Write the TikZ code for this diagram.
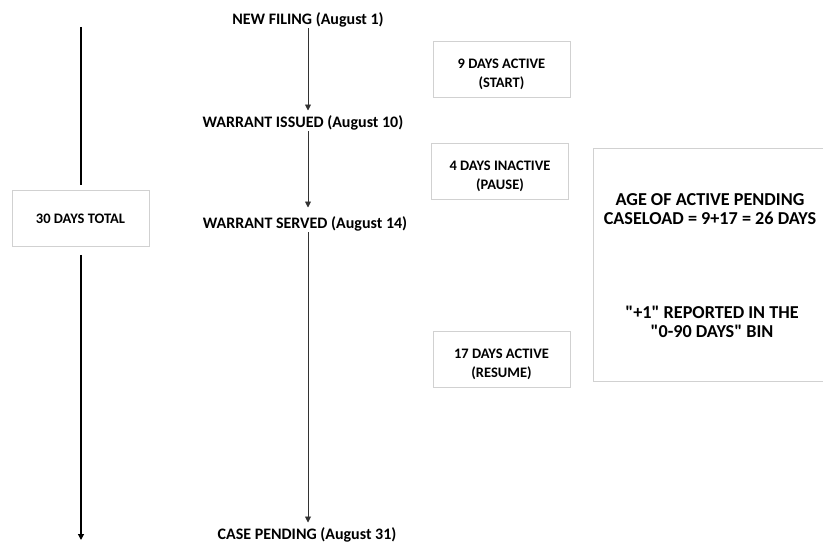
\documentclass[tikz,border=0pt]{standalone}
\usepackage{fontspec}
\setmainfont{Carlito}[Ligatures=TeXOff]
\usetikzlibrary{arrows.meta}
\newcommand{\lowstrut}{\rule{0pt}{20pt}}
\begin{document}
\begin{tikzpicture}[x=1pt, y=-1pt,
    daybox/.style={draw=black!18, line width=0.8pt, minimum width=137pt, minimum height=56pt, align=center, font=\fontsize{14.5}{19}\selectfont\bfseries},
    event/.style={inner sep=1pt, font=\fontsize{16}{18}\selectfont\bfseries},
    bigtext/.style={align=center, font=\fontsize{18.2}{19}\selectfont\bfseries},
    flow/.style={-{Triangle[width=6pt, length=6pt]}, line width=0.9pt, black!80}]
    \useasboundingbox (0,0) rectangle (823,543);
    \clip (0,0) rectangle (823,543);

    % Events on the time line
    \coordinate (X) at (308,0);
    \node[event] (F) at (308,20) {NEW FILING (August 1)};
    \node[event] (I) at (303,123) {WARRANT ISSUED (August 10)};
    \node[event] (S) at (305,224) {WARRANT SERVED (August 14)};
    \node[event] (P) at (307,535) {CASE PENDING (August 31)};

    % Time line edges
    \draw[flow] (F.south -| X) -- ([yshift=4pt]I.north -| X);
    \draw[flow] (I.south -| X) -- ([yshift=8pt]S.north -| X);
    \draw[flow] (S.south -| X) -- ([yshift=4pt]P.north -| X);

    % Day counts
    \node[daybox] (A1) at (501.5,69) {\lowstrut 9 DAYS ACTIVE\\(START)};
    \node[daybox] (A2) at (500,171) {\lowstrut 4 DAYS INACTIVE\\(PAUSE)};
    \node[daybox] (A3) at (501.5,359) {\lowstrut 17 DAYS ACTIVE\\(RESUME)};

    % Total span
    \node[daybox] (T) at (80.5,218.5) {30 DAYS TOTAL};
    \coordinate (T0) at (81,27);
    \coordinate (T1) at (81,540);
    \draw[line width=1.2pt] (T0) -- ([yshift=5pt]T.north -| T0);
    \draw[flow, black, line width=1.2pt] ([yshift=-8pt]T.south -| T0) -- (T1);

    % Result box
    \draw[draw=black!18, line width=0.8pt] (593,148) rectangle (840,381);
    \node[bigtext] (R1) at (710,209) {AGE OF ACTIVE PENDING\\CASELOAD = 9+17 = 26 DAYS};
    \node[bigtext] (R2) at (712,322) {"+1" REPORTED IN THE\\"0-90 DAYS" BIN};
\end{tikzpicture}
\end{document}
